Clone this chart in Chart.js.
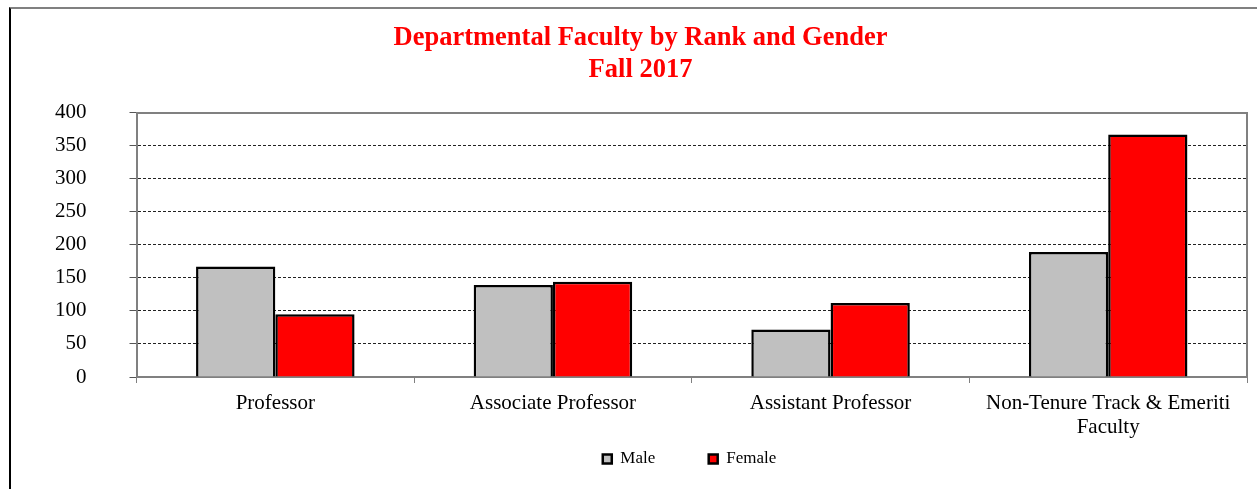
<!DOCTYPE html>
<html>
<head>
<meta charset="utf-8">
<script src="https://cdn.jsdelivr.net/npm/chart.js@4/dist/chart.umd.min.js"></script>
<style>
  html, body { margin: 0; padding: 0; background: #fff; }
  #wrap { position: relative; width: 1257px; height: 489px; }
  #frame {
    position: absolute; left: 9px; top: 7px; right: 0; bottom: 0;
    border-top: 2px solid #808080; border-left: 2px solid #000;
    pointer-events: none;
  }
</style>
</head>
<body>
<div id="wrap">
  <canvas id="chart-faculty" width="1257" height="489"></canvas>
  <div id="frame"></div>
</div>
<script>
const titleLines = ["Departmental Faculty by Rank and Gender", "Fall 2017"];
const categories = [
  "Professor",
  "Associate Professor",
  "Assistant Professor",
  ["Non-Tenure Track & Emeriti", "Faculty"],
];
const maleCounts = [167, 139, 72, 189];
const femaleCounts = [95, 144, 112, 367];
const yMin = 0;
const yMax = 400;
const yStep = 50;

const serif = "'Liberation Serif', 'Times New Roman', serif";

// move title and legend boxes to where the original has them
const boxPlace = {
  id: "boxPlace",
  afterLayout: (chart) => {
    const legend = chart.legend;
    legend.left += 60;
    legend.right += 60;
    legend.top = 397;
    legend.bottom = chart.height;

    const title = chart.titleBlock;
    title.left += 11;
    title.right += 11;
  },
};

const main = () => {
  const ctx = document.querySelector("#chart-faculty");

  new Chart(ctx, {
    type: "bar",
    data: {
      labels: categories,
      datasets: [
        {
          label: "Male",
          data: maleCounts,
          backgroundColor: "#C0C0C0",
          borderColor: "#000",
          borderWidth: 2.5,
        },
        {
          label: "Female",
          data: femaleCounts,
          backgroundColor: "#FF0000",
          borderColor: "#000",
          borderWidth: 2.5,
        },
      ],
    },
    plugins: [boxPlace],
    options: {
      responsive: false,
      animation: false,
      devicePixelRatio: 1,
      layout: { padding: { left: 12, right: 10, top: 0, bottom: 18 } },
      datasets: {
        bar: { categoryPercentage: 0.571, barPercentage: 1 },
      },
      scales: {
        x: {
          position: "bottom",
          grid: {
            offset: true,
            drawOnChartArea: false,
            tickLength: 6,
            tickColor: "#808080",
            tickWidth: 1,
          },
          border: { color: "#808080", width: 2 },
          ticks: {
            color: "#000",
            padding: 8,
            maxRotation: 0,
            autoSkip: false,
            font: { family: serif, size: 21, lineHeight: 1.15 },
          },
          afterFit: (scale) => {
            scale.height = 64;
          },
        },
        xTop: {
          position: "top",
          type: "category",
          labels: categories,
          grid: { drawOnChartArea: false, drawTicks: false },
          border: { color: "#808080", width: 2 },
          ticks: { display: false },
        },
        y: {
          min: yMin,
          max: yMax,
          ticks: {
            stepSize: yStep,
            color: "#000",
            padding: 43,
            font: { family: serif, size: 21 },
          },
          grid: {
            color: (c) =>
              c.tick && (c.tick.value === yMin || c.tick.value === yMax)
                ? "rgba(0,0,0,0)"
                : "#222",
            lineWidth: 1,
            tickLength: 7,
            tickColor: "#555",
            tickWidth: 1,
          },
          border: { color: "#808080", width: 2, dash: [3, 2] },
        },
        yRight: {
          position: "right",
          min: yMin,
          max: yMax,
          grid: { drawOnChartArea: false, drawTicks: false },
          border: { color: "#808080", width: 2 },
          ticks: { display: false },
        },
      },
      plugins: {
        title: {
          display: true,
          text: titleLines,
          color: "#FF0000",
          font: { family: serif, size: 26.5, weight: "bold", lineHeight: 1.2 },
          padding: { top: 22, bottom: 27 },
        },
        legend: {
          position: "bottom",
          maxHeight: 30,
          labels: {
            boxWidth: 9,
            boxHeight: 9,
            padding: 53.5,
            color: "#000",
            font: { family: serif, size: 17 },
          },
        },
        tooltip: { enabled: false },
      },
    },
  });
};

document.addEventListener("DOMContentLoaded", main);
</script>
</body>
</html>
